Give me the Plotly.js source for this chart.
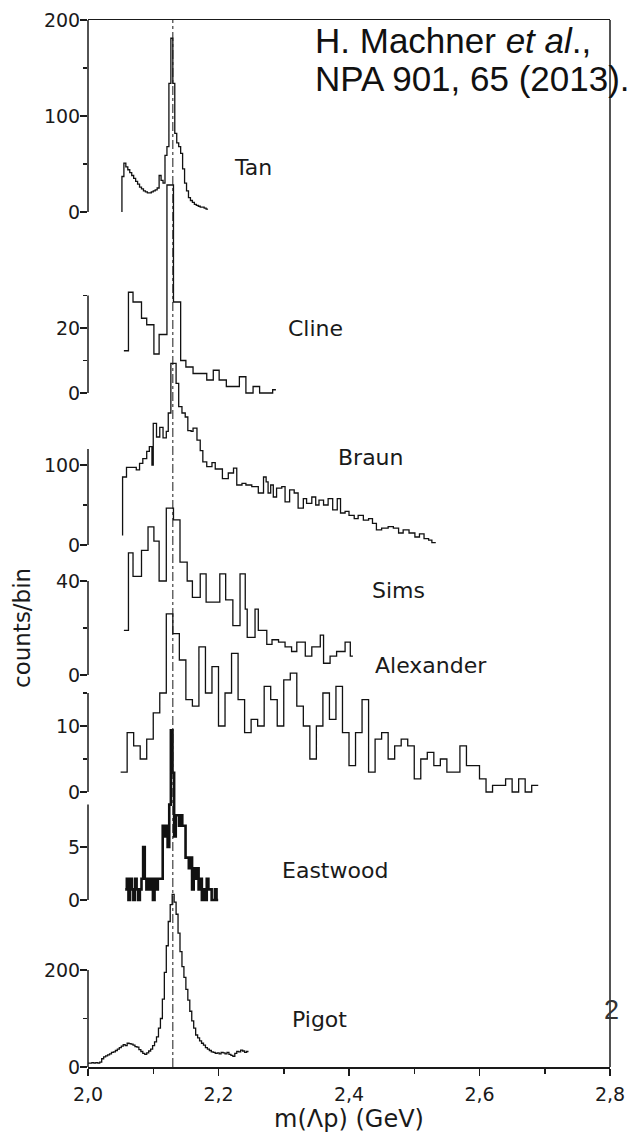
<!DOCTYPE html>
<html>
<head>
<meta charset="utf-8">
<script src="https://cdn.plot.ly/plotly-3.0.1.min.js"></script>
<style>html,body{margin:0;padding:0;background:#fff;}#chart{width:641px;height:1135px;}</style>
</head>
<body>
<div id="chart"></div>
<script>
// ---------------- data ----------------
// Tan: uniform bins
const tanStart = 2.052, tanWidth = 0.003;
const tanCounts = [37,51,47,44,41,38,35,32,29,26,24,22,21,20,20,21,22,23,25,38,33,30,59,68,134,181,134,82,72,68,61,45,30,22,15,12,10,8,7,6,5,5,4,3];

// Cline: explicit bin edges (GeV)
const clineEdges = [2.055,2.062,2.069,2.082,2.090,2.101,2.109,2.121,2.131,2.142,2.150,2.161,2.182,2.192,2.201,2.212,2.232,2.242,2.253,2.263,2.283,2.288];
const clineCounts = [13,31,28,23,21,12,18,64,28,10,8,6,4,7,4,2,5,0,2,0,1];

// Braun: explicit bin edges (GeV)
const braunEdges = [2.053,2.059,2.074,2.079,2.084,2.090,2.094,2.098,2.100,2.105,2.110,2.115,2.120,2.123,2.127,2.135,2.139,2.144,2.149,2.153,2.158,2.161,2.167,2.172,2.176,2.182,2.190,2.195,2.206,2.215,2.223,2.228,2.236,2.242,2.251,2.261,2.269,2.273,2.276,2.280,2.284,2.289,2.297,2.302,2.309,2.316,2.322,2.330,2.335,2.343,2.349,2.354,2.361,2.368,2.375,2.382,2.387,2.394,2.400,2.408,2.414,2.422,2.430,2.436,2.442,2.450,2.460,2.468,2.476,2.483,2.492,2.501,2.508,2.515,2.522,2.527,2.533];
const braunCounts = [85,97,94,102,108,117,123,100,152,135,147,134,142,165,227,202,173,165,160,143,142,146,131,118,104,98,103,95,83,90,96,75,77,75,73,65,85,79,65,75,60,71,73,54,69,65,46,58,52,60,50,56,50,58,44,58,40,42,37,33,37,31,33,27,19,21,23,21,15,19,15,10,14,8,6,3];

// Sims: explicit bin edges (GeV)
const simsEdges = [2.055,2.062,2.069,2.082,2.092,2.101,2.109,2.120,2.131,2.141,2.152,2.160,2.172,2.181,2.192,2.202,2.211,2.222,2.233,2.241,2.244,2.256,2.261,2.274,2.282,2.292,2.302,2.312,2.320,2.333,2.343,2.356,2.361,2.371,2.381,2.394,2.402,2.406];
const simsCounts = [19,52,42,53,63,57,40,71,66,48,40,33,43,31,31,43,32,21,43,28,16,28,19,13,15,14,12,10,14,8,12,17,5,8,10,14,8];

// Alexander: uniform 10 MeV bins
const alexStart = 2.05, alexWidth = 0.01;
const alexCounts = [3,9,7,5,8,12,15,27,24,20,14,13,22,15,19,10,15,21,14,9,11,10,16,14,10,17,18,13,10,5,10,15,11,16,9,4,9,14,3,8,9,5,7,8,7,2,5,6,4,5,3,3,7,4,4,2,0,1,1,2,0,2,0,1];

// Eastwood: uniform bins
const eastStart = 2.057, eastWidth = 0.0025;
const eastCounts = [1,2,0,2,1,0,2,1,0,1,2,5,2,1,2,1,2,0,2,1,2,2,2,7,6,7,5,9,16,12,6,8,8,7,8,7,7,4,4,3,4,1,3,2,3,1,2,0,1,0,2,1,1,0,0,1,0];

// Pigot: uniform bins
const pigotStart = 2.0, pigotWidth = 0.003;
const pigotCounts = [8,8,9,8,9,8,10,17,21,23,25,27,30,31,34,37,40,43,46,44,49,48,47,45,42,41,36,32,28,26,29,33,37,44,52,62,80,100,140,195,250,300,335,356,340,315,276,238,207,185,160,138,115,95,80,66,60,54,49,45,40,37,34,31,30,28,29,27,30,29,27,30,26,24,22,28,32,31,35,33,30,32];

const panelNames = ["Tan","Cline","Braun","Sims","Alexander","Eastwood","Pigot"];
const thresholdMass = 2.13;   // dash-dot line
const xTickVals = [2.0,2.2,2.4,2.6,2.8];
const xTickText = ["2,0","2,2","2,4","2,6","2,8"];
const xMinorVals = [2.1,2.3,2.5,2.7];

// y tick definitions per panel
const yMajor = [[0,100,200],[0,20],[0,100],[0,40],[0,10],[0,5],[0,200]];
const yMinor = [[50,150],[10,30],[50],[20],[5,15],[],[100]];
const yAxisTop = [200,30,120,40,15,9,200];

// ---------------- layout geometry ----------------
const W = 641, H = 1135;
const mL = 88, mR = 31, mT = 20, mB = 68;
const plotH = H - mT - mB;           // 1047
const bottomPx = H - mB;             // 1067
// pixel of zero line and pixels per count for each panel
const zeroPx = [212,393,545,675,792,900,1067];
const pxPerUnit = [0.96,3.25,0.8,2.35,6.6,10.6,0.485];

function uniformEdges(start, width, n) {
  const e = [];
  for (let i = 0; i <= n; i++) e.push(+(start + i*width).toFixed(5));
  return e;
}
function stepTrace(edges, counts, axisIdx, startLevel, lw) {
  const n = Math.min(edges.length - 1, counts.length);
  const x = edges.slice(0, n+1);
  const y = counts.slice(0, n);
  y.push(counts[n-1]);
  if (startLevel !== undefined) { x.unshift(edges[0]); y.unshift(startLevel); }
  return {
    type: 'scatter', mode: 'lines', x: x, y: y,
    xaxis: 'x', yaxis: axisIdx === 0 ? 'y' : 'y' + (axisIdx+1),
    line: {shape: 'hv', color: '#111', width: lw || 1.3},
    hoverinfo: 'skip', showlegend: false
  };
}

const traces = [
  stepTrace(uniformEdges(tanStart, tanWidth, tanCounts.length), tanCounts, 0, 0),
  stepTrace(clineEdges, clineCounts, 1),
  stepTrace(braunEdges, braunCounts, 2, 12),
  stepTrace(simsEdges, simsCounts, 3),
  stepTrace(uniformEdges(alexStart, alexWidth, alexCounts.length), alexCounts, 4),
  stepTrace(uniformEdges(eastStart, eastWidth, eastCounts.length), eastCounts, 5, undefined, 2.6),
  stepTrace(uniformEdges(pigotStart, pigotWidth, pigotCounts.length), pigotCounts, 6)
];

const tickFont = {family: 'DejaVu Sans', size: 19, color: '#1a1a1a'};
const layout = {
  width: W, height: H,
  margin: {l: mL, r: mR, t: mT, b: mB},
  paper_bgcolor: '#fff', plot_bgcolor: '#fff',
  showlegend: false,
  xaxis: {
    range: [2.0, 2.8], showgrid: false, zeroline: false,
    showline: true, mirror: true, linecolor: '#1a1a1a', linewidth: 1.5,
    ticks: 'outside', ticklen: 7, tickwidth: 1.5, tickcolor: '#1a1a1a',
    tickmode: 'array', tickvals: xTickVals, ticktext: xTickText,
    tickfont: tickFont, ticklabelstandoff: 3,
    minor: {tickmode: 'array', tickvals: xMinorVals, ticks: 'outside', ticklen: 5, tickwidth: 1.5, tickcolor: '#1a1a1a', showgrid: false},
    title: {text: 'm(Λp) (GeV)', font: {family: 'DejaVu Sans', size: 24, color: '#1a1a1a'}, standoff: 4}
  },
  shapes: [],
  annotations: []
};

for (let i = 0; i < 7; i++) {
  const s = pxPerUnit[i];
  const lo = -(bottomPx - zeroPx[i]) / s;
  const hi = lo + plotH / s;
  const ax = {
    range: [lo, hi], showgrid: false, zeroline: false, showline: false,
    ticks: 'outside', ticklen: 7, tickwidth: 1.5, tickcolor: '#1a1a1a',
    tickmode: 'array', tickvals: yMajor[i], ticktext: yMajor[i].map(String),
    tickfont: tickFont, anchor: 'x', side: 'left', ticklabelstandoff: -4,
    minor: {tickmode: 'array', tickvals: yMinor[i], ticks: 'outside', ticklen: 4, tickwidth: 1.5, tickcolor: '#1a1a1a', showgrid: false}
  };
  if (i > 0) ax.overlaying = 'y';
  layout[i === 0 ? 'yaxis' : 'yaxis' + (i+1)] = ax;
  layout.shapes.push({
    type: 'line', xref: 'paper', x0: 0, x1: 0,
    yref: i === 0 ? 'y' : 'y' + (i+1), y0: 0, y1: yAxisTop[i],
    line: {color: '#1a1a1a', width: 1.5}
  });
}
// right frame line
layout.shapes.push({type: 'line', xref: 'paper', yref: 'paper', x0: 1, x1: 1, y0: 0, y1: 1, line: {color: '#1a1a1a', width: 1.5}});
// dash-dot threshold line
layout.shapes.push({type: 'line', xref: 'x', yref: 'paper', x0: thresholdMass, x1: thresholdMass, y0: 0, y1: 1, line: {color: '#1a1a1a', width: 1, dash: 'dashdot'}});

// panel labels (x in GeV, y in panel counts)
const labelX = [2.221, 2.303, 2.380, 2.432, 2.437, 2.294, 2.310];
const labelY = [46, 20, 109, 36, 19.2, 2.8, 97];
const labelFont = {family: 'DejaVu Sans', size: 22, color: '#1a1a1a'};
for (let i = 0; i < 7; i++) {
  layout.annotations.push({
    text: panelNames[i], xref: 'x', yref: i === 0 ? 'y' : 'y' + (i+1),
    x: labelX[i], y: labelY[i], xanchor: 'left', yanchor: 'middle',
    showarrow: false, font: labelFont
  });
}
// y-axis title
layout.annotations.push({
  text: 'counts/bin', xref: 'paper', yref: 'paper',
  x: (22 - mL) / (W - mL - mR), y: (bottomPx - 628) / plotH,
  xanchor: 'center', yanchor: 'middle', textangle: -90, showarrow: false,
  font: {family: 'DejaVu Sans', size: 23, color: '#1a1a1a'}
});
// citation overlay
const citeFont = {family: 'Liberation Sans', size: 35, color: '#111'};
layout.annotations.push({
  text: 'H. Machner <i>et al</i>.,', xref: 'paper', yref: 'paper',
  x: (313 - mL) / (W - mL - mR), y: (bottomPx - 41) / plotH,
  xanchor: 'left', yanchor: 'middle', showarrow: false, font: citeFont
});
layout.annotations.push({
  text: 'NPA 901, 65 (2013).', xref: 'paper', yref: 'paper',
  x: (313 - mL) / (W - mL - mR), y: (bottomPx - 79) / plotH,
  xanchor: 'left', yanchor: 'middle', showarrow: false, font: citeFont
});
// slide number
layout.annotations.push({
  text: '2', xref: 'paper', yref: 'paper',
  x: (611 - mL) / (W - mL - mR), y: (bottomPx - 1010) / plotH,
  xanchor: 'center', yanchor: 'middle', showarrow: false,
  font: {family: 'Liberation Sans', size: 27, color: '#333'}
});

Plotly.newPlot('chart', traces, layout, {staticPlot: true, displayModeBar: false});
</script>
</body>
</html>
